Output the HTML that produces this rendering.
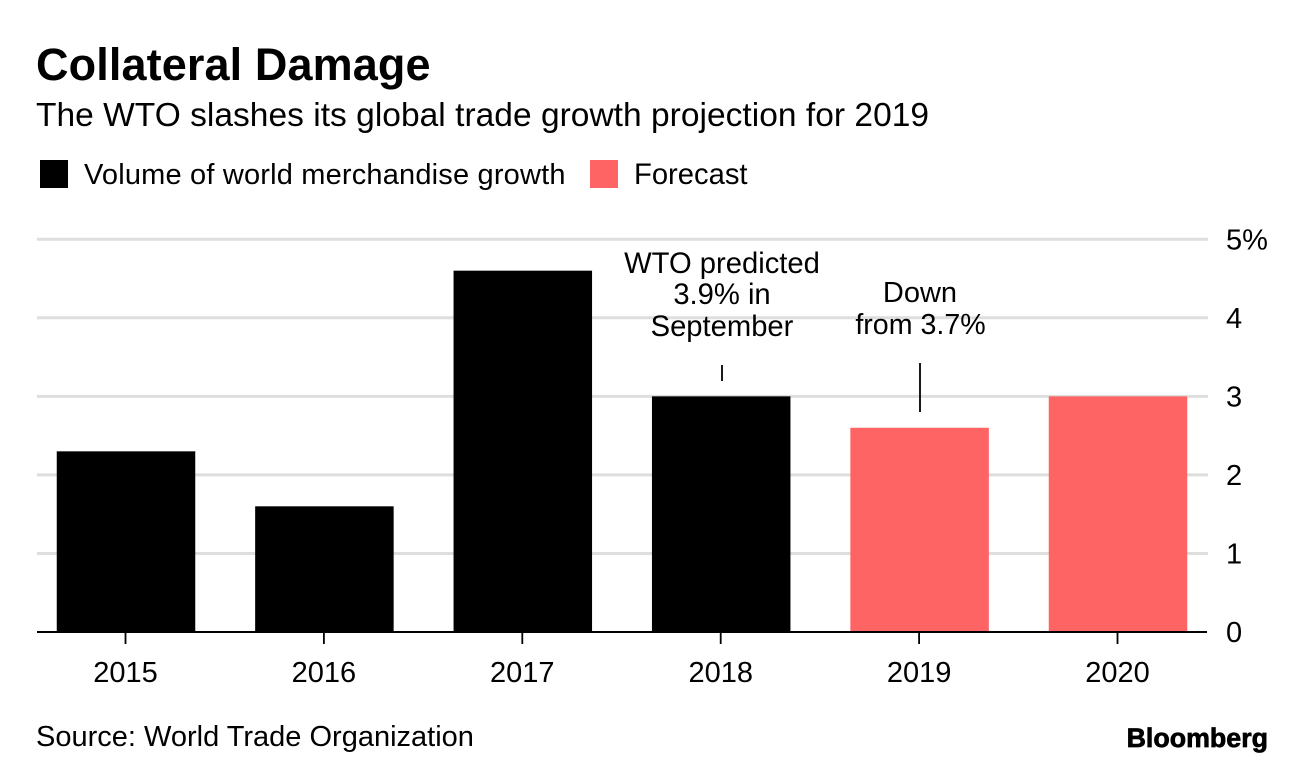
<!DOCTYPE html>
<html lang="en">
<head>
<meta charset="utf-8">
<title>Collateral Damage</title>
<style>
html,body{margin:0;padding:0;background:#fff;width:1296px;height:768px;overflow:hidden}
svg{display:block}
text{font-family:"Liberation Sans",sans-serif;fill:#000}
</style>
</head>
<body>
<svg id="chart" width="1296" height="768" viewBox="0 0 1296 768" xmlns="http://www.w3.org/2000/svg">
  <text x="36" y="80" font-size="45" letter-spacing="0.12" font-weight="700">Collateral Damage</text>
  <text x="36" y="126" font-size="33.5" letter-spacing="0.03">The WTO slashes its global trade growth projection for 2019</text>
  <rect x="40" y="160" width="28" height="28" fill="#000"></rect>
  <text x="84" y="184" font-size="29" letter-spacing="0.18">Volume of world merchandise growth</text>
  <rect x="590" y="160" width="28" height="28" fill="#ff6464"></rect>
  <text x="634" y="184" font-size="29.2">Forecast</text>
  <g id="grid"></g>
  <g id="bars"></g>
  <g id="axis"></g>
  <g id="notes">
    <text text-anchor="middle" x="722" y="273" font-size="29.2">WTO predicted</text>
    <text text-anchor="middle" x="722" y="304" font-size="29.2">3.9% in</text>
    <text text-anchor="middle" x="722" y="336" font-size="29.2">September</text>
    <text text-anchor="middle" x="920" y="302" font-size="29">Down</text>
    <text text-anchor="middle" x="920.5" y="334" font-size="28.6">from 3.7%</text>
    <line x1="722" x2="722" y1="365" y2="381" stroke="#000" stroke-width="1.8"></line>
    <line x1="920" x2="920" y1="363" y2="412" stroke="#000" stroke-width="1.8"></line>
  </g>
  <text x="36" y="746" font-size="29">Source: World Trade Organization</text>
  <text x="1268" y="747" text-anchor="end" font-size="26.8" font-weight="700" stroke="#000" stroke-width="0.7">Bloomberg</text>
</svg>
<script>
const categories = ['2015', '2016', '2017', '2018', '2019', '2020'];
const growthValues = [2.3, 1.6, 4.6, 3.0, 2.6, 3.0];
const forecastFlags = [false, false, false, false, true, true];
const tickValues = [0, 1, 2, 3, 4, 5];
const tickLabels = ['0', '1', '2', '3', '4', '5%'];

const NS = 'http://www.w3.org/2000/svg';
const yScale = function (v) { return 632 - v * 78.55; };
const xCenter = function (i) { return 126 + i * 198.4; };
const BAR_WIDTH = 138.5;

function make(tag, attrs, parent) {
  const el = document.createElementNS(NS, tag);
  Object.keys(attrs).forEach(function (k) { el.setAttribute(k, attrs[k]); });
  parent.appendChild(el);
  return el;
}

const grid = document.getElementById('grid');
const bars = document.getElementById('bars');
const axis = document.getElementById('axis');

tickValues.forEach(function (v, i) {
  if (v !== 0) {
    const line = make('line', { x1: 37, x2: 1208, y1: yScale(v), y2: yScale(v), stroke: '#dedede', 'stroke-width': 3 }, grid);
    
    
  }
  const label = make('text', { x: 1226, y: yScale(v) + 10, 'font-size': 29 }, axis);
  label.textContent = tickLabels[i];
  
  
});

categories.forEach(function (c, i) {
  const top = yScale(growthValues[i]);
  const bar = make('rect', {
    x: xCenter(i) - BAR_WIDTH / 2,
    y: top,
    width: BAR_WIDTH,
    height: yScale(0) - top,
    fill: forecastFlags[i] ? '#ff6464' : '#000'
  }, bars);
  
  

  const tick = make('line', { x1: xCenter(i) - 0.5, x2: xCenter(i) - 0.5, y1: 632, y2: 644, stroke: '#000', 'stroke-width': 1.8 }, axis);
  
  

  const label = make('text', { x: xCenter(i) - 0.5, y: 682, 'text-anchor': 'middle', 'font-size': 29 }, axis);
  label.textContent = c;
  
  
});

const baseline = make('line', { x1: 37, x2: 1207, y1: 632, y2: 632, stroke: '#000', 'stroke-width': 2 }, axis);


</script>
</body>
</html>
